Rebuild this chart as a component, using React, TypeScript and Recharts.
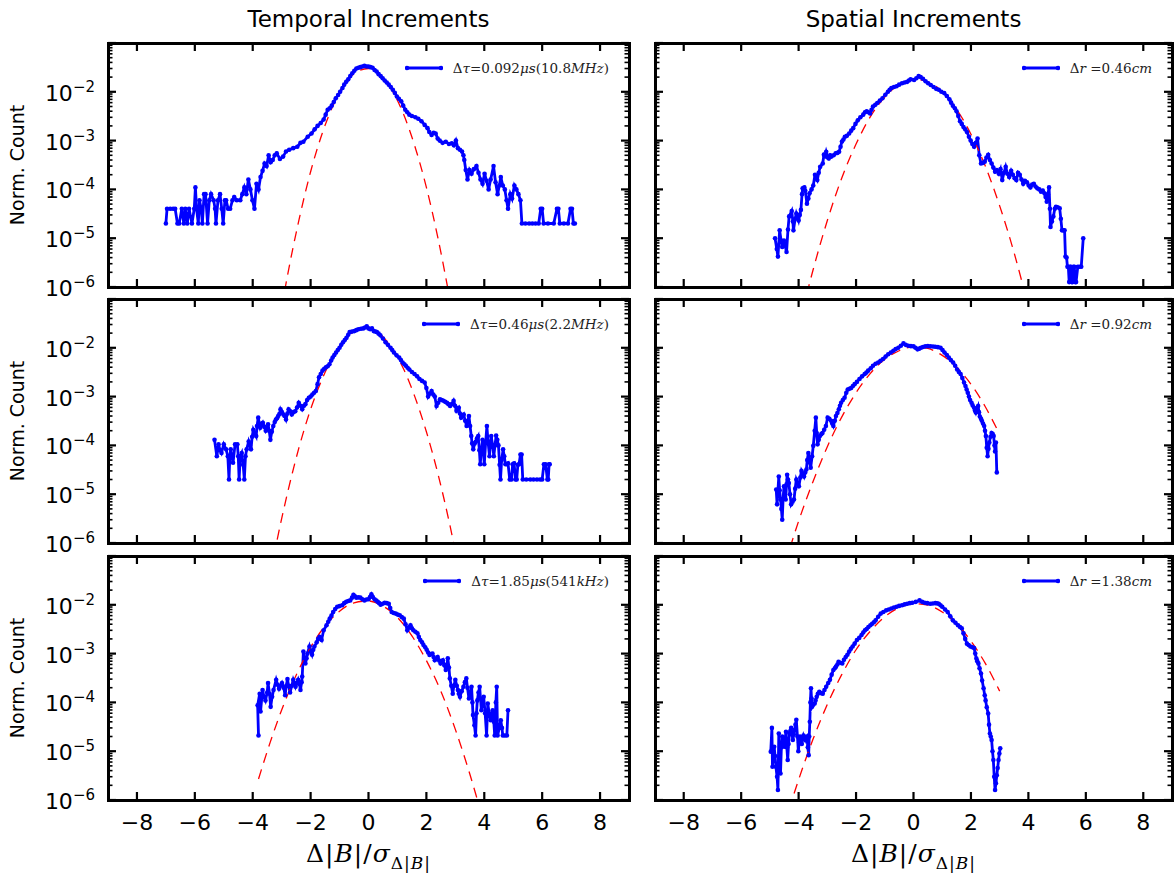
import React from 'react';
import { LineChart, Line, XAxis, YAxis } from 'recharts';

type Pt = [number, number];

// axis ticks
const xTicks = [-8, -6, -4, -2, 0, 2, 4, 6, 8];
const xTickLabels = ['−8', '−6', '−4', '−2', '0', '2', '4', '6', '8'];
const decades = [-6, -5, -4, -3, -2];
const minorSteps = [2, 3, 4, 5, 6, 7, 8, 9];
const yTicks = [...decades.flatMap((d) => [Math.pow(10, d), ...minorSteps.map((m) => m * Math.pow(10, d))]), 1e-1];

// Temporal increments, dtau = 0.092 us
const t092: Pt[] = [
  [-7.0, 2e-5], [-6.96, 4e-5], [-6.85, 4e-5], [-6.75, 4e-5], [-6.68, 4e-5], [-6.6, 2e-5], [-6.54, 2e-5], [-6.45, 4e-5],
  [-6.38, 2e-5], [-6.33, 4e-5], [-6.26, 2e-5], [-6.2, 4e-5], [-6.1, 2e-5], [-6.02, 4e-5], [-5.98, 1.1e-4], [-5.94, 4e-5],
  [-5.88, 2e-5], [-5.84, 6e-5], [-5.78, 4e-5], [-5.74, 2e-5], [-5.68, 8e-5], [-5.63, 8e-5], [-5.56, 2e-5], [-5.5, 6e-5],
  [-5.44, 8e-5], [-5.35, 6e-5], [-5.3, 4e-5], [-5.27, 2e-5], [-5.2, 6e-5], [-5.13, 8e-5], [-5.07, 4e-5], [-5.02, 2e-5],
  [-4.96, 6e-5], [-4.92, 6e-5], [-4.85, 4e-5], [-4.78, 4e-5], [-4.7, 6e-5], [-4.64, 7e-5], [-4.55, 6e-5], [-4.43, 6e-5],
  [-4.36, 8e-5], [-4.29, 1.1e-4], [-4.22, 8e-5], [-4.15, 1.6e-4], [-4.08, 1e-4], [-4.01, 6e-5], [-3.94, 4e-5], [-3.87, 1.3e-4],
  [-3.8, 1e-4], [-3.73, 1.8e-4], [-3.66, 2.4e-4], [-3.59, 3.4e-4], [-3.52, 3e-4], [-3.45, 5e-4], [-3.38, 3.6e-4], [-3.31, 4e-4],
  [-3.24, 5e-4], [-3.17, 5.5e-4], [-3.06, 4.2e-4], [-2.95, 4.7e-4], [-2.85, 6e-4], [-2.74, 6.5e-4], [-2.6, 7e-4], [-2.46, 7.5e-4],
  [-2.35, 9e-4], [-2.25, 9.5e-4], [-2.1, 1.2e-3], [-1.97, 1.4e-3], [-1.86, 1.7e-3], [-1.76, 2e-3], [-1.65, 2.3e-3], [-1.55, 2.7e-3],
  [-1.48, 3.4e-3], [-1.41, 4.3e-3], [-1.34, 4.6e-3], [-1.27, 5.2e-3], [-1.2, 6.2e-3], [-1.13, 7.4e-3], [-1.05, 8.6e-3], [-0.98, 1.0e-2],
  [-0.9, 1.2e-2], [-0.84, 1.4e-2], [-0.77, 1.6e-2], [-0.7, 1.8e-2], [-0.63, 2.1e-2], [-0.56, 2.4e-2], [-0.49, 2.7e-2], [-0.42, 3.0e-2],
  [-0.35, 3.1e-2], [-0.28, 3.2e-2], [-0.21, 3.3e-2], [-0.14, 3.4e-2], [-0.07, 3.3e-2], [0, 3.3e-2], [0.07, 3.2e-2], [0.14, 3.1e-2],
  [0.21, 2.8e-2], [0.28, 2.6e-2], [0.35, 2.3e-2], [0.42, 2.1e-2], [0.49, 1.9e-2], [0.56, 1.7e-2], [0.63, 1.55e-2], [0.7, 1.4e-2],
  [0.77, 1.25e-2], [0.84, 1.1e-2], [0.91, 9.5e-3], [0.98, 8e-3], [1.05, 7.2e-3], [1.13, 6.4e-3], [1.2, 5.2e-3], [1.27, 4.3e-3],
  [1.34, 3.8e-3], [1.41, 3.4e-3], [1.5, 3.2e-3], [1.62, 3e-3], [1.72, 2.8e-3], [1.83, 2.5e-3], [1.94, 2.1e-3], [2.04, 1.8e-3],
  [2.1, 1.5e-3], [2.18, 1.3e-3], [2.25, 1.45e-3], [2.32, 1.4e-3], [2.39, 1.1e-3], [2.46, 1e-3], [2.56, 9e-4], [2.67, 9.5e-4],
  [2.78, 8.5e-4], [2.88, 8.8e-4], [2.95, 8e-4], [3.02, 1e-3], [3.09, 7e-4], [3.16, 6.5e-4], [3.23, 6e-4], [3.28, 5e-4],
  [3.31, 4e-4], [3.36, 2.5e-4], [3.42, 1.6e-4], [3.49, 2.5e-4], [3.56, 2.1e-4], [3.64, 2.6e-4], [3.73, 3e-4], [3.8, 2.2e-4],
  [3.87, 1.6e-4], [3.94, 1.3e-4], [4.01, 2.1e-4], [4.08, 1.5e-4], [4.15, 1e-4], [4.22, 1.6e-4], [4.32, 3e-4], [4.39, 1.4e-4],
  [4.46, 8e-5], [4.52, 1.2e-4], [4.57, 1.8e-4], [4.64, 1.2e-4], [4.71, 1e-4], [4.77, 6e-5], [4.82, 4e-5], [4.9, 8e-5],
  [4.96, 6.5e-5], [5.04, 1.2e-4], [5.11, 1e-4], [5.18, 8e-5], [5.25, 6e-5], [5.3, 2e-5], [5.42, 2e-5], [5.55, 2e-5],
  [5.66, 2e-5], [5.77, 2e-5], [5.88, 2e-5], [5.95, 4e-5], [6.0, 4e-5], [6.05, 2e-5], [6.2, 2e-5], [6.4, 2e-5],
  [6.51, 4e-5], [6.56, 4e-5], [6.61, 2e-5], [6.75, 2e-5], [6.89, 2e-5], [6.98, 4e-5], [7.03, 4e-5], [7.08, 2e-5], [7.13, 2e-5],
];
const t092Fit: Pt[] = [
  [-3.2, 7.6e-8], [-2.8, 1.7e-6], [-2.4, 2.4e-5], [-2.0, 2.3e-4], [-1.6, 1.4e-3], [-1.2, 5.6e-3], [-0.8, 1.5e-2], [-0.4, 2.6e-2],
  [0, 3.0e-2], [0.4, 2.2e-2], [0.8, 1.1e-2], [1.2, 3.6e-3], [1.6, 7.7e-4], [2.0, 1.1e-4], [2.4, 1e-5], [2.8, 6e-7], [3.2, 2.5e-8],
];

// Temporal increments, dtau = 0.46 us
const t046: Pt[] = [
  [-5.32, 1.3e-4], [-5.24, 6e-5], [-5.18, 1.05e-4], [-5.13, 8e-5], [-5.08, 7e-5], [-5.0, 1.05e-4], [-4.92, 8.3e-5], [-4.86, 6e-5],
  [-4.82, 2e-5], [-4.79, 6e-5], [-4.76, 8.3e-5], [-4.68, 4.4e-5], [-4.61, 1.05e-4], [-4.53, 1.05e-4], [-4.5, 6e-5], [-4.47, 2e-5],
  [-4.43, 6e-5], [-4.38, 7e-5], [-4.33, 4e-5], [-4.29, 2e-5], [-4.25, 6e-5], [-4.21, 8.3e-5], [-4.14, 1.2e-4], [-4.1, 1e-4],
  [-4.06, 8.3e-5], [-4.02, 1.5e-4], [-3.98, 2.1e-4], [-3.93, 1.8e-4], [-3.88, 1.55e-4], [-3.85, 2.5e-4], [-3.81, 3.7e-4], [-3.77, 2.8e-4],
  [-3.74, 2.3e-4], [-3.69, 2.6e-4], [-3.65, 2.9e-4], [-3.6, 2.4e-4], [-3.55, 2e-4], [-3.5, 2.3e-4], [-3.47, 2.7e-4], [-3.43, 2e-4],
  [-3.39, 1.3e-4], [-3.34, 1.9e-4], [-3.29, 2.5e-4], [-3.24, 3e-4], [-3.2, 3.4e-4], [-3.16, 3.6e-4], [-3.12, 4e-4], [-3.08, 4.4e-4],
  [-3.04, 5.5e-4], [-2.99, 4.8e-4], [-2.94, 4.3e-4], [-2.9, 4e-4], [-2.85, 3.4e-4], [-2.8, 4.5e-4], [-2.76, 5.5e-4], [-2.7, 5e-4],
  [-2.65, 4.3e-4], [-2.59, 4.8e-4], [-2.53, 5e-4], [-2.47, 6e-4], [-2.41, 7.5e-4], [-2.35, 6.5e-4], [-2.29, 5.5e-4], [-2.23, 6.5e-4],
  [-2.18, 7e-4], [-2.12, 8.5e-4], [-2.06, 9.5e-4], [-2.0, 1e-3], [-1.94, 1.1e-3], [-1.88, 1.2e-3], [-1.82, 1.3e-3], [-1.76, 1.8e-3],
  [-1.71, 2.5e-3], [-1.65, 2.9e-3], [-1.59, 3.4e-3], [-1.53, 3.7e-3], [-1.47, 4e-3], [-1.41, 4.2e-3], [-1.35, 4.6e-3], [-1.29, 5.5e-3],
  [-1.24, 6.3e-3], [-1.18, 7.1e-3], [-1.12, 8e-3], [-1.06, 9e-3], [-1.0, 1.0e-2], [-0.94, 1.15e-2], [-0.88, 1.3e-2], [-0.82, 1.45e-2],
  [-0.76, 1.6e-2], [-0.7, 1.85e-2], [-0.65, 2.1e-2], [-0.57, 2.15e-2], [-0.49, 2.2e-2], [-0.42, 2.3e-2], [-0.35, 2.4e-2], [-0.26, 2.45e-2],
  [-0.18, 2.5e-2], [-0.12, 2.6e-2], [-0.06, 2.75e-2], [0.0, 2.5e-2], [0.06, 2.4e-2], [0.12, 2.5e-2], [0.18, 2.2e-2], [0.24, 2.15e-2],
  [0.29, 2.1e-2], [0.35, 1.95e-2], [0.41, 1.8e-2], [0.5, 1.55e-2], [0.59, 1.3e-2], [0.67, 1.15e-2], [0.76, 1.0e-2], [0.82, 9e-3],
  [0.88, 8e-3], [0.97, 7e-3], [1.06, 6.3e-3], [1.12, 5.6e-3], [1.18, 5e-3], [1.24, 4.6e-3], [1.29, 4.3e-3], [1.35, 3.9e-3],
  [1.41, 3.6e-3], [1.5, 3.2e-3], [1.59, 2.9e-3], [1.68, 2.6e-3], [1.76, 2.3e-3], [1.85, 2.1e-3], [1.94, 1.95e-3], [2.0, 1.5e-3],
  [2.06, 1e-3], [2.12, 1.15e-3], [2.18, 1.3e-3], [2.24, 1.1e-3], [2.29, 1e-3], [2.35, 6.4e-4], [2.41, 7.5e-4], [2.47, 8.8e-4],
  [2.53, 8.5e-4], [2.59, 8.2e-4], [2.65, 7.8e-4], [2.71, 7.5e-4], [2.76, 7e-4], [2.82, 6.4e-4], [2.88, 7e-4], [2.94, 8.2e-4],
  [2.99, 6.5e-4], [3.04, 5.1e-4], [3.08, 5.5e-4], [3.12, 5.9e-4], [3.16, 4.5e-4], [3.2, 3.7e-4], [3.25, 4e-4], [3.29, 4.3e-4],
  [3.34, 3.2e-4], [3.39, 2.5e-4], [3.43, 3.2e-4], [3.47, 4e-4], [3.51, 2.5e-4], [3.55, 1.55e-4], [3.58, 1.1e-4], [3.62, 8.3e-5],
  [3.67, 1.1e-4], [3.71, 1.2e-4], [3.75, 1.4e-4], [3.79, 1.55e-4], [3.83, 8e-5], [3.86, 4.1e-5], [3.9, 8e-5], [3.94, 1.3e-4],
  [3.97, 8e-5], [4.0, 4.1e-5], [4.05, 1.2e-4], [4.09, 2.5e-4], [4.13, 1.2e-4], [4.18, 6e-5], [4.21, 1e-4], [4.24, 1.55e-4],
  [4.29, 1e-4], [4.33, 6e-5], [4.37, 1e-4], [4.41, 1.6e-4], [4.45, 1.3e-4], [4.49, 1e-4], [4.53, 4e-5], [4.56, 2e-5],
  [4.6, 5e-5], [4.65, 8.3e-5], [4.69, 6e-5], [4.73, 4.1e-5], [4.78, 4.1e-5], [4.82, 4.3e-5], [4.88, 2e-5], [4.94, 2e-5],
  [4.98, 4.1e-5], [5.03, 4.3e-5], [5.08, 2e-5], [5.12, 2e-5], [5.16, 4e-5], [5.2, 4.1e-5], [5.25, 6.5e-5], [5.29, 6.5e-5],
  [5.33, 2e-5], [5.45, 2e-5], [5.59, 2e-5], [5.7, 2e-5], [5.82, 2e-5], [5.93, 2e-5], [6.0, 2e-5], [6.06, 4.1e-5],
  [6.12, 4.1e-5], [6.18, 2e-5], [6.21, 2e-5], [6.24, 4.1e-5], [6.26, 4.1e-5],
];
const t046Fit: Pt[] = [
  [-3.6, 5e-8], [-3.2, 8.7e-7], [-2.8, 1.05e-5], [-2.4, 9.1e-5], [-2.0, 5.5e-4], [-1.6, 2.3e-3], [-1.2, 7.1e-3], [-0.8, 1.5e-2],
  [-0.4, 2.3e-2], [0, 2.5e-2], [0.4, 1.9e-2], [0.8, 1e-2], [1.2, 3.8e-3], [1.6, 1e-3], [2.0, 1.9e-4], [2.4, 2.6e-5],
  [2.8, 2.5e-6], [3.2, 1.7e-7],
];

// Temporal increments, dtau = 1.85 us
const t185: Pt[] = [
  [-3.8, 2.1e-5], [-3.83, 8.7e-5], [-3.76, 1.5e-4], [-3.73, 6.5e-5], [-3.66, 1.8e-4], [-3.61, 1.3e-4], [-3.56, 1.1e-4], [-3.5, 1.6e-4],
  [-3.47, 2.5e-4], [-3.42, 1.5e-4], [-3.38, 8.1e-5], [-3.33, 1.3e-4], [-3.28, 1.8e-4], [-3.19, 2.9e-4], [-3.14, 2.3e-4], [-3.09, 1.9e-4],
  [-3.04, 2.2e-4], [-2.99, 2.5e-4], [-2.93, 2e-4], [-2.88, 1.4e-4], [-2.84, 2.2e-4], [-2.8, 3e-4], [-2.76, 2.2e-4], [-2.71, 1.6e-4],
  [-2.65, 2.2e-4], [-2.6, 2.9e-4], [-2.56, 2.5e-4], [-2.52, 2.1e-4], [-2.47, 2.5e-4], [-2.43, 2.9e-4], [-2.39, 2.4e-4], [-2.35, 1.8e-4],
  [-2.31, 2.6e-4], [-2.29, 3.4e-4], [-2.25, 1.1e-3], [-2.21, 8e-4], [-2.18, 6.3e-4], [-2.14, 8e-4], [-2.11, 1e-3], [-2.04, 1.4e-3],
  [-1.99, 1.1e-3], [-1.95, 9.5e-4], [-1.91, 1.2e-3], [-1.87, 1.4e-3], [-1.79, 1.7e-3], [-1.74, 2e-3], [-1.69, 2.2e-3], [-1.62, 1.9e-3],
  [-1.55, 3e-3], [-1.45, 3.8e-3], [-1.39, 4.5e-3], [-1.34, 5.2e-3], [-1.28, 6e-3], [-1.22, 7.1e-3], [-1.15, 8.2e-3], [-1.08, 9.1e-3],
  [-1.0, 9.4e-3], [-0.91, 9.8e-3], [-0.84, 1.08e-2], [-0.77, 1.15e-2], [-0.7, 1.2e-2], [-0.63, 1.23e-2], [-0.57, 1.4e-2], [-0.52, 1.6e-2],
  [-0.47, 1.5e-2], [-0.42, 1.4e-2], [-0.35, 1.42e-2], [-0.28, 1.4e-2], [-0.21, 1.3e-2], [-0.14, 1.23e-2], [-0.07, 1.28e-2], [0, 1.3e-2],
  [0.05, 1.45e-2], [0.1, 1.65e-2], [0.15, 1.45e-2], [0.21, 1.3e-2], [0.27, 1.22e-2], [0.32, 1.15e-2], [0.37, 1.08e-2], [0.42, 1e-2],
  [0.49, 1.05e-2], [0.56, 1.1e-2], [0.63, 1.08e-2], [0.7, 1.05e-2], [0.75, 8.6e-3], [0.8, 7.1e-3], [0.87, 6.8e-3], [0.94, 6.6e-3],
  [1.01, 6.3e-3], [1.08, 6.1e-3], [1.15, 5.6e-3], [1.22, 5.2e-3], [1.28, 4e-3], [1.34, 3e-3], [1.39, 3.4e-3], [1.45, 3.8e-3],
  [1.5, 3.3e-3], [1.55, 3e-3], [1.62, 2.8e-3], [1.69, 2.6e-3], [1.74, 2.2e-3], [1.79, 1.9e-3], [1.85, 1.7e-3], [1.9, 1.5e-3],
  [1.96, 1.35e-3], [2.01, 1.2e-3], [2.06, 1.05e-3], [2.11, 9.4e-4], [2.16, 9.8e-4], [2.21, 1e-3], [2.25, 8.5e-4], [2.29, 7.3e-4],
  [2.34, 7.8e-4], [2.39, 8.5e-4], [2.44, 7.2e-4], [2.49, 6.3e-4], [2.53, 6.8e-4], [2.57, 7.3e-4], [2.62, 5.8e-4], [2.67, 4.6e-4],
  [2.71, 6e-4], [2.74, 8e-4], [2.78, 5.2e-4], [2.81, 3.1e-4], [2.86, 2.2e-4], [2.91, 1.5e-4], [2.95, 2.2e-4], [3.0, 2.9e-4],
  [3.05, 2.2e-4], [3.09, 1.8e-4], [3.12, 1.5e-4], [3.16, 1.3e-4], [3.22, 1.7e-4], [3.28, 2.1e-4], [3.33, 2.6e-4], [3.38, 3.1e-4],
  [3.42, 2e-4], [3.47, 1.2e-4], [3.51, 1.6e-4], [3.56, 2.1e-4], [3.59, 1e-4], [3.61, 5.5e-5], [3.66, 3.4e-5], [3.7, 2.1e-5],
  [3.73, 6e-5], [3.76, 1.1e-4], [3.8, 1.6e-4], [3.84, 2.1e-4], [3.87, 1.2e-4], [3.9, 6.9e-5], [3.94, 1e-4], [3.98, 1.3e-4],
  [4.03, 6e-5], [4.08, 2.1e-5], [4.12, 9.5e-5], [4.17, 6e-5], [4.22, 4.3e-5], [4.26, 5.5e-5], [4.29, 6.9e-5], [4.33, 4e-5],
  [4.36, 2.1e-5], [4.4, 1e-4], [4.43, 2.1e-4], [4.46, 2.1e-5], [4.52, 3e-5], [4.57, 4.3e-5], [4.61, 3e-5], [4.64, 2.1e-5],
  [4.71, 2.1e-5], [4.78, 2.1e-5], [4.82, 6.9e-5],
];
const t185Fit: Pt[] = [
  [-3.8, 2.7e-6], [-3.4, 1.5e-5], [-3.0, 7e-5], [-2.5, 3.6e-4], [-2.0, 1.35e-3], [-1.5, 3.7e-3], [-1.0, 7.4e-3], [-0.5, 1.1e-2],
  [0, 1.2e-2], [0.5, 9.4e-3], [1.0, 5.5e-3], [1.5, 2.3e-3], [2.0, 7.2e-4], [2.5, 1.7e-4], [3.0, 2.8e-5], [3.5, 3.4e-6],
  [4.0, 3.1e-7], [4.5, 2e-8],
];

// Spatial increments, dr = 0.46 cm
const r046: Pt[] = [
  [-4.82, 1e-5], [-4.76, 6e-6], [-4.72, 4.2e-6], [-4.66, 1.45e-5], [-4.61, 9e-6], [-4.57, 6.6e-6], [-4.51, 9e-6], [-4.47, 7e-6],
  [-4.42, 5.2e-6], [-4.37, 1.5e-5], [-4.33, 2.8e-5], [-4.24, 3.6e-5], [-4.2, 2.2e-5], [-4.18, 1.45e-5], [-4.12, 2.5e-5], [-4.08, 3.2e-5],
  [-4.0, 2.3e-5], [-3.96, 3e-5], [-3.92, 3.8e-5], [-3.88, 8e-5], [-3.86, 1.05e-4], [-3.8, 1.1e-4], [-3.77, 9.5e-5], [-3.71, 5.1e-5],
  [-3.66, 6.5e-5], [-3.62, 8.3e-5], [-3.55, 1e-4], [-3.49, 1.2e-4], [-3.43, 2e-4], [-3.39, 1.7e-4], [-3.35, 1.55e-4], [-3.3, 2.2e-4],
  [-3.25, 2.9e-4], [-3.16, 3.4e-4], [-3.12, 5.1e-4], [-3.08, 4.8e-4], [-3.04, 5.9e-4], [-2.98, 4.5e-4], [-2.95, 4.3e-4], [-2.9, 5e-4],
  [-2.86, 4.7e-4], [-2.78, 5e-4], [-2.71, 5.5e-4], [-2.65, 5.6e-4], [-2.59, 5.9e-4], [-2.54, 7.5e-4], [-2.49, 9.6e-4], [-2.44, 1.05e-3],
  [-2.39, 1.2e-3], [-2.32, 1.25e-3], [-2.24, 1.4e-3], [-2.17, 1.6e-3], [-2.1, 1.8e-3], [-2.02, 2.2e-3], [-1.94, 2.6e-3], [-1.85, 3e-3],
  [-1.75, 3.4e-3], [-1.69, 3.8e-3], [-1.63, 4e-3], [-1.57, 3.8e-3], [-1.51, 3.6e-3], [-1.46, 4.3e-3], [-1.41, 5e-3], [-1.33, 5.4e-3],
  [-1.26, 5.9e-3], [-1.17, 6.6e-3], [-1.08, 7.4e-3], [-0.98, 8.7e-3], [-0.89, 1.0e-2], [-0.83, 1.1e-2], [-0.77, 1.2e-2], [-0.68, 1.25e-2],
  [-0.59, 1.3e-2], [-0.5, 1.4e-2], [-0.4, 1.5e-2], [-0.31, 1.55e-2], [-0.22, 1.6e-2], [-0.16, 1.7e-2], [-0.1, 1.8e-2], [0.02, 1.75e-2],
  [0.1, 1.9e-2], [0.18, 2.1e-2], [0.25, 2.0e-2], [0.33, 1.85e-2], [0.42, 1.65e-2], [0.51, 1.5e-2], [0.6, 1.38e-2], [0.7, 1.25e-2],
  [0.79, 1.15e-2], [0.88, 1.1e-2], [0.97, 1.0e-2], [1.07, 9.4e-3], [1.16, 8.2e-3], [1.25, 7e-3], [1.31, 6e-3], [1.37, 5.2e-3],
  [1.44, 4.6e-3], [1.5, 4e-3], [1.56, 3.2e-3], [1.62, 2.5e-3], [1.68, 2.2e-3], [1.74, 1.9e-3], [1.8, 1.7e-3], [1.86, 1.5e-3],
  [1.93, 1.2e-3], [1.99, 1e-3], [2.05, 8.5e-4], [2.11, 7.5e-4], [2.17, 9e-4], [2.23, 1.1e-3], [2.29, 5e-4], [2.35, 3.4e-4],
  [2.42, 3.5e-4], [2.48, 3.7e-4], [2.54, 4.5e-4], [2.6, 5.1e-4], [2.66, 4e-4], [2.72, 3.4e-4], [2.78, 2.8e-4], [2.84, 2.3e-4],
  [2.9, 2.5e-4], [2.97, 2.1e-4], [3.03, 2.6e-4], [3.09, 1.55e-4], [3.15, 2.2e-4], [3.21, 2.9e-4], [3.27, 2.1e-4], [3.33, 1.8e-4],
  [3.4, 2.4e-4], [3.46, 2e-4], [3.52, 1.7e-4], [3.58, 1.55e-4], [3.64, 2.2e-4], [3.7, 2e-4], [3.76, 1.6e-4], [3.82, 1.3e-4],
  [3.88, 1.5e-4], [3.95, 1.4e-4], [4.01, 1.2e-4], [4.07, 1.1e-4], [4.13, 1.25e-4], [4.19, 1.3e-4], [4.25, 1.15e-4], [4.31, 1.05e-4],
  [4.38, 1e-4], [4.44, 9e-5], [4.5, 9.5e-5], [4.56, 8.3e-5], [4.6, 7e-5], [4.64, 5.6e-5], [4.68, 8e-5], [4.72, 1.1e-4],
  [4.75, 4e-5], [4.77, 1.7e-5], [4.82, 2.2e-5], [4.87, 2.8e-5], [4.92, 4e-5], [4.96, 4.4e-5], [5.02, 4.3e-5], [5.09, 4.1e-5],
  [5.13, 2.5e-5], [5.17, 1.45e-5], [5.22, 1.45e-5], [5.26, 1.45e-5], [5.29, 4.2e-6], [5.33, 4e-6], [5.36, 2.6e-6], [5.39, 2.6e-6],
  [5.42, 1.26e-6], [5.45, 2.6e-6], [5.48, 2.6e-6], [5.51, 1.26e-6], [5.54, 1.26e-6], [5.57, 2.6e-6], [5.6, 2.6e-6], [5.63, 1.26e-6],
  [5.66, 1.26e-6], [5.72, 2.6e-6], [5.78, 2.6e-6], [5.84, 2.6e-6], [5.91, 1e-5],
];
const r046Fit: Pt[] = [
  [-4.0, 1.5e-7], [-3.5, 2.2e-6], [-3.0, 2.3e-5], [-2.5, 1.7e-4], [-2.0, 8.5e-4], [-1.5, 3.1e-3], [-1.0, 7.8e-3], [-0.5, 1.4e-2],
  [0, 1.8e-2], [0.5, 1.6e-2], [1.0, 1.0e-2], [1.5, 4.4e-3], [2.0, 1.35e-3], [2.5, 3e-4], [3.0, 4.6e-5], [3.5, 5.1e-6], [4.0, 3.9e-7],
];

// Spatial increments, dr = 0.92 cm
const r092: Pt[] = [
  [-4.78, 1.25e-5], [-4.75, 6.2e-6], [-4.72, 1.2e-5], [-4.69, 2.3e-5], [-4.66, 1.2e-5], [-4.63, 7.8e-6], [-4.6, 5e-6], [-4.57, 3e-6],
  [-4.54, 8e-6], [-4.51, 1.45e-5], [-4.48, 1e-5], [-4.45, 7.8e-6], [-4.42, 1.6e-5], [-4.4, 2.5e-5], [-4.37, 2e-5], [-4.34, 1.7e-5],
  [-4.3, 1e-5], [-4.26, 6.2e-6], [-4.21, 7e-6], [-4.16, 7.8e-6], [-4.12, 1.3e-5], [-4.08, 2e-5], [-4.03, 1.7e-5], [-3.99, 1.45e-5],
  [-3.94, 2.2e-5], [-3.9, 3e-5], [-3.85, 2.6e-5], [-3.81, 2.3e-5], [-3.77, 2.8e-5], [-3.73, 3.2e-5], [-3.7, 5e-5], [-3.66, 7e-5],
  [-3.62, 4.5e-5], [-3.58, 3.5e-5], [-3.53, 6e-5], [-3.49, 9.8e-5], [-3.44, 2e-4], [-3.4, 3.7e-4], [-3.37, 1.8e-4], [-3.34, 1.05e-4],
  [-3.3, 1.3e-4], [-3.26, 1.55e-4], [-3.21, 1.7e-4], [-3.17, 1.8e-4], [-3.11, 2.1e-4], [-3.05, 2.5e-4], [-2.99, 3.7e-4], [-2.93, 3.5e-4],
  [-2.87, 3.2e-4], [-2.83, 2.8e-4], [-2.79, 2.5e-4], [-2.74, 3.2e-4], [-2.7, 4e-4], [-2.65, 4.6e-4], [-2.6, 5.5e-4], [-2.56, 6.5e-4],
  [-2.52, 7.5e-4], [-2.46, 8.5e-4], [-2.4, 9.5e-4], [-2.34, 1.2e-3], [-2.29, 1.4e-3], [-2.23, 1.45e-3], [-2.17, 1.5e-3], [-2.11, 1.65e-3],
  [-2.05, 1.8e-3], [-1.97, 2e-3], [-1.88, 2.3e-3], [-1.79, 2.6e-3], [-1.7, 2.9e-3], [-1.64, 3.1e-3], [-1.58, 3.4e-3], [-1.49, 3.8e-3],
  [-1.41, 4.3e-3], [-1.32, 4.7e-3], [-1.23, 5e-3], [-1.15, 5.4e-3], [-1.06, 5.9e-3], [-0.97, 6.6e-3], [-0.88, 7.4e-3], [-0.79, 8e-3],
  [-0.7, 8.7e-3], [-0.62, 9.4e-3], [-0.53, 1.0e-2], [-0.44, 1.1e-2], [-0.35, 1.23e-2], [-0.27, 1.15e-2], [-0.18, 1.1e-2], [-0.09, 1.08e-2],
  [0, 1.07e-2], [0.07, 1e-2], [0.14, 9.3e-3], [0.2, 9.6e-3], [0.26, 1.0e-2], [0.33, 1.04e-2], [0.41, 1.07e-2], [0.5, 1.08e-2],
  [0.59, 1.07e-2], [0.68, 1.06e-2], [0.76, 1.05e-2], [0.85, 1.03e-2], [0.94, 1.0e-2], [1.01, 9e-3], [1.08, 8e-3], [1.16, 7.1e-3],
  [1.23, 6.3e-3], [1.3, 5.6e-3], [1.38, 5e-3], [1.45, 4.3e-3], [1.52, 3.6e-3], [1.58, 3.2e-3], [1.64, 2.9e-3], [1.7, 2.4e-3],
  [1.76, 1.95e-3], [1.81, 1.65e-3], [1.85, 1.4e-3], [1.89, 1.2e-3], [1.93, 1e-3], [1.97, 8.5e-4], [2.02, 7.5e-4], [2.06, 6.6e-4],
  [2.11, 5.9e-4], [2.14, 5.2e-4], [2.17, 4.7e-4], [2.21, 5.6e-4], [2.25, 6.4e-4], [2.28, 4.8e-4], [2.31, 3.9e-4], [2.35, 3.5e-4],
  [2.38, 3.2e-4], [2.42, 2.8e-4], [2.46, 2.5e-4], [2.49, 2e-4], [2.52, 1.55e-4], [2.55, 9e-5], [2.58, 6e-5], [2.61, 8.5e-5],
  [2.64, 1.15e-4], [2.68, 1.5e-4], [2.72, 1.8e-4], [2.76, 1.7e-4], [2.79, 1.55e-4], [2.82, 1e-4], [2.84, 7.5e-5], [2.87, 1.15e-4],
  [2.9, 2.8e-5],
];
const r092Fit: Pt[] = [
  [-4.8, 8e-8], [-4.4, 5.1e-7], [-4.0, 2.8e-6], [-3.5, 1.8e-5], [-3.0, 9.4e-5], [-2.5, 3.8e-4], [-2.0, 1.2e-3], [-1.5, 3e-3],
  [-1.0, 5.8e-3], [-0.5, 8.7e-3], [0, 1.05e-2], [0.5, 9.7e-3], [1.0, 7e-3], [1.5, 4e-3], [2.0, 1.8e-3], [2.5, 6.2e-4], [2.9, 2.2e-4],
];

// Spatial increments, dr = 1.38 cm
const r138: Pt[] = [
  [-4.97, 9.8e-6], [-4.93, 3e-5], [-4.91, 4.8e-6], [-4.88, 1e-5], [-4.85, 1.23e-5], [-4.82, 8e-6], [-4.79, 4.8e-6], [-4.75, 3e-6],
  [-4.72, 1.6e-6], [-4.69, 2.3e-5], [-4.66, 8e-6], [-4.63, 3.5e-6], [-4.6, 1.2e-5], [-4.57, 2e-5], [-4.53, 1.6e-5], [-4.5, 1.23e-5],
  [-4.47, 1.8e-5], [-4.44, 2.5e-5], [-4.41, 1.2e-5], [-4.38, 6.6e-6], [-4.35, 1.4e-5], [-4.32, 2.3e-5], [-4.29, 2.6e-5], [-4.26, 3e-5],
  [-4.23, 2.2e-5], [-4.2, 1.7e-5], [-4.17, 2.2e-5], [-4.14, 2.7e-5], [-4.11, 3.5e-5], [-4.08, 4.4e-5], [-4.04, 2e-5], [-4.01, 1e-5],
  [-3.98, 1.5e-5], [-3.95, 2e-5], [-3.92, 1.7e-5], [-3.89, 1.4e-5], [-3.86, 1.8e-5], [-3.83, 2.1e-5], [-3.8, 1.9e-5], [-3.77, 1.7e-5],
  [-3.74, 1.9e-5], [-3.71, 2e-5], [-3.68, 1.2e-5], [-3.65, 8.3e-6], [-3.63, 2e-5], [-3.61, 4e-5], [-3.59, 1e-4], [-3.57, 1.95e-4],
  [-3.55, 1.2e-4], [-3.53, 8.1e-5], [-3.49, 9e-5], [-3.44, 9.5e-5], [-3.41, 1.1e-4], [-3.37, 1.3e-4], [-3.33, 1.5e-4], [-3.28, 1.65e-4],
  [-3.22, 1.55e-4], [-3.16, 1.5e-4], [-3.1, 1.8e-4], [-3.04, 2.1e-4], [-2.97, 2.5e-4], [-2.91, 2.9e-4], [-2.85, 3.7e-4], [-2.79, 4.6e-4],
  [-2.74, 5e-4], [-2.7, 5.4e-4], [-2.65, 6e-4], [-2.61, 6.8e-4], [-2.55, 6.5e-4], [-2.48, 6.3e-4], [-2.42, 7.5e-4], [-2.36, 8.5e-4],
  [-2.3, 9.5e-4], [-2.24, 1.1e-3], [-2.18, 1.25e-3], [-2.12, 1.4e-3], [-2.05, 1.6e-3], [-1.97, 1.9e-3], [-1.89, 2.1e-3], [-1.81, 2.4e-3],
  [-1.75, 2.7e-3], [-1.69, 3e-3], [-1.63, 3.2e-3], [-1.57, 3.5e-3], [-1.5, 3.8e-3], [-1.44, 4.1e-3], [-1.38, 4.4e-3], [-1.32, 4.8e-3],
  [-1.23, 5.7e-3], [-1.14, 6.6e-3], [-1.05, 7.1e-3], [-0.95, 7.7e-3], [-0.86, 8e-3], [-0.77, 8.4e-3], [-0.68, 8.8e-3], [-0.59, 9.1e-3],
  [-0.5, 9.5e-3], [-0.4, 9.8e-3], [-0.31, 1.02e-2], [-0.22, 1.05e-2], [-0.13, 1.08e-2], [-0.04, 1.1e-2], [0.08, 1.15e-2], [0.21, 1.23e-2],
  [0.3, 1.15e-2], [0.39, 1.1e-2], [0.48, 1.08e-2], [0.58, 1.05e-2], [0.67, 1.06e-2], [0.76, 1.08e-2], [0.82, 1.07e-2], [0.88, 1.05e-2],
  [0.94, 9.8e-3], [1.0, 9.1e-3], [1.1, 8e-3], [1.19, 7.1e-3], [1.28, 5.8e-3], [1.37, 4.8e-3], [1.46, 4.3e-3], [1.55, 3.8e-3],
  [1.62, 3.5e-3], [1.68, 3.3e-3], [1.74, 2.6e-3], [1.8, 2e-3], [1.86, 1.6e-3], [1.92, 1.5e-3], [1.98, 1.4e-3], [2.05, 1.35e-3],
  [2.11, 1.3e-3], [2.15, 1e-3], [2.19, 7.9e-4], [2.22, 7e-4], [2.26, 6.3e-4], [2.3, 5e-4], [2.35, 3.9e-4], [2.39, 2.8e-4],
  [2.44, 1.95e-4], [2.48, 1.4e-4], [2.51, 1.1e-4], [2.55, 8e-5], [2.6, 5.9e-5], [2.63, 3.5e-5], [2.66, 2.3e-5], [2.69, 2e-5],
  [2.72, 1.7e-5], [2.75, 1e-5], [2.78, 6.6e-6], [2.81, 3e-6], [2.84, 1.6e-6], [2.87, 2.2e-6], [2.9, 3.2e-6], [2.93, 4.5e-6],
  [2.96, 6.6e-6], [2.99, 9e-6], [3.02, 1.15e-5],
];
const r138Fit: Pt[] = [
  [-5.0, 2.9e-8], [-4.5, 3.1e-7], [-4.0, 2.6e-6], [-3.5, 1.75e-5], [-3.0, 9.1e-5], [-2.5, 3.7e-4], [-2.0, 1.2e-3], [-1.5, 2.9e-3],
  [-1.0, 5.7e-3], [-0.5, 8.7e-3], [0, 1.05e-2], [0.5, 9.8e-3], [1.0, 7.1e-3], [1.5, 4.1e-3], [2.0, 1.8e-3], [2.5, 6.3e-4], [3.0, 1.7e-4],
];

const legendT092 = ['0.092', '10.8', 'MHz'];
const legendT046 = ['0.46', '2.2', 'MHz'];
const legendT185 = ['1.85', '541', 'kHz'];
const legendR046 = '0.46';
const legendR092 = '0.92';
const legendR138 = '1.38';

const BLUE = '#0000ff';
const RED = '#ff0000';
const SANS = '"DejaVu Sans", sans-serif';
const MATH = '"DejaVu Serif", "Liberation Serif", serif';

const ML = 100;
const MT = 12;
const MR = 12;
const MB = 80;
const PH = 244;

const pts = (a: Pt[]) => a.map(([x, y]) => ({ x, y }));

function TauLabel({ v }: { v: string[] }) {
  return (
    <span>
      Δ<i>τ</i>={v[0]}<i>μs</i>({v[1]}<i>{v[2]}</i>)
    </span>
  );
}

function RLabel({ v }: { v: string }) {
  return (
    <span>
      Δ<i>r</i> ={v}<i>cm</i>
    </span>
  );
}

interface PanelProps {
  left: number;
  top: number;
  pw: number;
  blue: Pt[];
  fit: Pt[];
  legend: React.ReactNode;
  yLabels: boolean;
  xLabels: boolean;
}

function Panel({ left, top, pw, blue, fit, legend, yLabels, xLabels }: PanelProps) {
  const W = ML + pw + MR;
  const H = MT + PH + MB;

  const renderXTick = (p: any) => {
    const x = p.x;
    const i = xTicks.indexOf(p.payload.value);
    return (
      <g>
        <line x1={x} x2={x} y1={MT + PH} y2={MT + PH - 8} stroke="#000" strokeWidth={2.2} />
        <line x1={x} x2={x} y1={MT} y2={MT + 8} stroke="#000" strokeWidth={2.2} />
        {xLabels && (
          <text x={x} y={MT + PH + 30} textAnchor="middle" fontFamily={SANS} fontSize={22} fill="#000">
            {xTickLabels[i]}
          </text>
        )}
      </g>
    );
  };

  const renderYTick = (p: any) => {
    const y = p.y;
    const v = p.payload.value;
    const lg = Math.log10(v);
    const e = Math.round(lg);
    const major = Math.abs(lg - e) < 1e-6;
    const len = major ? 8 : 4.5;
    return (
      <g>
        <line x1={ML} x2={ML + len} y1={y} y2={y} stroke="#000" strokeWidth={major ? 2.2 : 1.6} />
        <line x1={ML + pw - len} x2={ML + pw} y1={y} y2={y} stroke="#000" strokeWidth={major ? 2.2 : 1.6} />
        {yLabels && major && e <= -2 && (
          <text x={ML - 13} y={y + 9} textAnchor="end" fontFamily={SANS} fontSize={22} fill="#000">
            10
            <tspan dy={-9} fontSize={15}>{`−${-e}`}</tspan>
          </text>
        )}
      </g>
    );
  };

  return (
    <div style={{ position: 'absolute', left: left - ML, top: top - MT, width: W, height: H }}>
      <LineChart width={W} height={H} margin={{ top: MT, right: MR, bottom: MB - 1, left: ML - 1 }}>
        <XAxis
          type="number"
          dataKey="x"
          domain={[-9, 9]}
          ticks={xTicks}
          interval={0}
          allowDataOverflow
          height={1}
          axisLine={false}
          tickLine={false}
          tick={renderXTick}
        />
        <YAxis
          type="number"
          scale="log"
          domain={[1e-6, 1e-1]}
          ticks={yTicks}
          interval={0}
          allowDataOverflow
          width={1}
          axisLine={false}
          tickLine={false}
          tick={renderYTick}
        />
        <Line
          data={pts(blue)}
          dataKey="y"
          type="linear"
          stroke={BLUE}
          strokeWidth={2.8}
          dot={{ r: 2.3, fill: BLUE, stroke: BLUE, strokeWidth: 0 }}
          isAnimationActive={false}
        />
        <Line
          data={pts(fit)}
          dataKey="y"
          type="monotone"
          stroke={RED}
          strokeWidth={1.3}
          strokeDasharray="10 7"
          dot={false}
          isAnimationActive={false}
        />
      </LineChart>
      <div
        style={{
          position: 'absolute',
          left: ML - 1.5,
          top: MT - 1.5,
          width: pw + 3,
          height: PH + 3,
          border: '3px solid #000',
          boxSizing: 'border-box',
          pointerEvents: 'none',
        }}
      />
      <div
        style={{
          position: 'absolute',
          top: MT + 17,
          right: MR + 20,
          display: 'flex',
          alignItems: 'center',
          fontFamily: MATH,
          fontSize: 13.5,
          color: '#222',
          whiteSpace: 'nowrap',
        }}
      >
        <svg width={38} height={10} style={{ marginRight: 10 }}>
          <line x1={2} x2={36} y1={5} y2={5} stroke={BLUE} strokeWidth={2.8} />
          <circle cx={2} cy={5} r={2.3} fill={BLUE} />
          <circle cx={36} cy={5} r={2.3} fill={BLUE} />
        </svg>
        {legend}
      </div>
    </div>
  );
}

const LEFT_X = 108;
const RIGHT_X = 655;
const LEFT_W = 521;
const RIGHT_W = 517;
const ROWS = [43, 299, 556];

function XLabel({ cx }: { cx: number }) {
  return (
    <text x={cx} y={ROWS[2] + PH + 62} textAnchor="middle" fontFamily={MATH} fontSize={25} fill="#000" letterSpacing={1}>
      Δ|<tspan fontStyle="italic">B</tspan>|/<tspan fontStyle="italic">σ</tspan>
      <tspan fontSize={17} dy={7}>
        Δ|<tspan fontStyle="italic">B</tspan>|
      </tspan>
    </text>
  );
}

export default function App() {
  return (
    <div style={{ position: 'absolute', left: 0, top: 0, width: 1175, height: 873, background: '#fff' }}>
      <svg width={1175} height={873} style={{ position: 'absolute', left: 0, top: 0 }}>
        <text x={LEFT_X + LEFT_W / 2} y={27} textAnchor="middle" fontFamily={SANS} fontSize={23} fill="#000">
          Temporal Increments
        </text>
        <text x={RIGHT_X + RIGHT_W / 2} y={27} textAnchor="middle" fontFamily={SANS} fontSize={23} fill="#000">
          Spatial Increments
        </text>
        {ROWS.map((t) => (
          <text
            key={t}
            x={24}
            y={t + PH / 2}
            transform={`rotate(-90, 24, ${t + PH / 2})`}
            textAnchor="middle"
            fontFamily={SANS}
            fontSize={19}
            fill="#000"
          >
            Norm. Count
          </text>
        ))}
        <XLabel cx={LEFT_X + LEFT_W / 2} />
        <XLabel cx={RIGHT_X + RIGHT_W / 2} />
      </svg>
      <Panel left={LEFT_X} top={ROWS[0]} pw={LEFT_W} blue={t092} fit={t092Fit} legend={<TauLabel v={legendT092} />} yLabels xLabels={false} />
      <Panel left={LEFT_X} top={ROWS[1]} pw={LEFT_W} blue={t046} fit={t046Fit} legend={<TauLabel v={legendT046} />} yLabels xLabels={false} />
      <Panel left={LEFT_X} top={ROWS[2]} pw={LEFT_W} blue={t185} fit={t185Fit} legend={<TauLabel v={legendT185} />} yLabels xLabels />
      <Panel left={RIGHT_X} top={ROWS[0]} pw={RIGHT_W} blue={r046} fit={r046Fit} legend={<RLabel v={legendR046} />} yLabels={false} xLabels={false} />
      <Panel left={RIGHT_X} top={ROWS[1]} pw={RIGHT_W} blue={r092} fit={r092Fit} legend={<RLabel v={legendR092} />} yLabels={false} xLabels={false} />
      <Panel left={RIGHT_X} top={ROWS[2]} pw={RIGHT_W} blue={r138} fit={r138Fit} legend={<RLabel v={legendR138} />} yLabels={false} xLabels />
    </div>
  );
}
